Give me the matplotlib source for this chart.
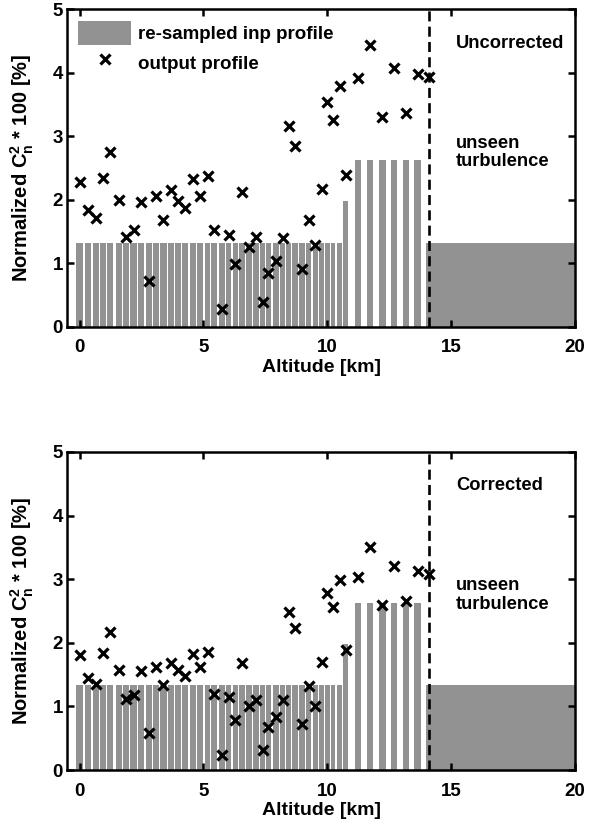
import matplotlib
matplotlib.use('Agg')
import matplotlib.pyplot as plt
import numpy as np

plt.rcParams['font.family'] = ['Liberation Sans', 'DejaVu Sans']
plt.rcParams['font.weight'] = 'bold'
plt.rcParams['axes.labelweight'] = 'bold'
plt.rcParams['mathtext.fontset'] = 'custom'
plt.rcParams['mathtext.rm'] = 'Liberation Sans:bold'
plt.rcParams['mathtext.it'] = 'Liberation Sans:bold'
plt.rcParams['mathtext.bf'] = 'Liberation Sans:bold'

# layer altitudes [km]
altitude = [0.00, 0.34, 0.65, 0.94, 1.24, 1.59, 1.88, 2.18, 2.49, 2.80,
            3.09, 3.39, 3.70, 3.99, 4.27, 4.57, 4.87, 5.17, 5.44, 5.74,
            6.02, 6.29, 6.56, 6.85, 7.12, 7.39, 7.63, 7.93, 8.20, 8.44,
            8.71, 8.98, 9.25, 9.52, 9.78, 10.01, 10.24, 10.51, 10.75,
            11.26, 11.73, 12.23, 12.70, 13.17, 13.65, 14.11]

# re-sampled input profile [%]
inp_profile = [1.33] * 38 + [1.98] + [2.63] * 6 + [1.33]

# output profiles [%]
out_uncorrected = [2.29, 1.84, 1.71, 2.34, 2.76, 2.00, 1.41, 1.52, 1.97, 0.73,
                   2.06, 1.69, 2.15, 1.99, 1.87, 2.33, 2.06, 2.37, 1.52, 0.28,
                   1.45, 0.99, 2.13, 1.26, 1.41, 0.40, 0.85, 1.04, 1.40, 3.17,
                   2.85, 0.91, 1.69, 1.29, 2.17, 3.55, 3.26, 3.80, 2.39,
                   3.92, 4.44, 3.30, 4.08, 3.37, 3.98, 3.93]
out_corrected = [1.81, 1.44, 1.35, 1.84, 2.17, 1.57, 1.11, 1.18, 1.55, 0.58,
                 1.62, 1.34, 1.69, 1.57, 1.48, 1.83, 1.62, 1.86, 1.19, 0.24,
                 1.15, 0.78, 1.68, 1.01, 1.10, 0.31, 0.68, 0.83, 1.10, 2.49,
                 2.23, 0.72, 1.32, 1.01, 1.70, 2.79, 2.56, 2.98, 1.89,
                 3.03, 3.50, 2.59, 3.21, 2.66, 3.13, 3.08]

# region above the max. altitude seen by the instrument
unseen_start = 14.11
unseen_end = 20.0
unseen_level = 1.33

panels = [('Uncorrected', out_uncorrected), ('Corrected', out_corrected)]
gray = '#929292'

# bar widths: fill the layer spacing, leaving a thin white gap
alt = np.array(altitude)
d = np.diff(alt)
spacing = np.minimum(np.r_[d[0], d], np.r_[d, d[-1]])
bar_w = np.minimum(spacing - 0.045, 0.25)

fig = plt.figure(figsize=(5.89, 8.27), dpi=100)
axes = [fig.add_axes([0.114, 0.6046, 0.862, 0.384]),
        fig.add_axes([0.114, 0.0689, 0.862, 0.3846])]

for ax, (title, out) in zip(axes, panels):
    bars = ax.bar(altitude, inp_profile, width=bar_w, color=gray, linewidth=0,
                  zorder=1)
    ax.bar(unseen_start, unseen_level, width=unseen_end - unseen_start,
           align='edge', color=gray, linewidth=0, zorder=1)
    pts, = ax.plot(altitude, out, 'x', color='black', ms=7.5, mew=2.3,
                   zorder=3)
    vl = ax.axvline(unseen_start, color='black', lw=1.9, zorder=4)
    vl.set_dashes((3.8, 2.0))

    ax.text(15.2, 4.47, title, fontsize=13.2, va='center', ha='left')
    ax.text(15.2, 2.75, 'unseen\nturbulence', fontsize=13.2, va='center',
            ha='left', linespacing=1.1)

    ax.set_xlim(-0.5, 20)
    ax.set_ylim(0, 5)
    ax.set_xticks([0, 5, 10, 15, 20])
    ax.set_yticks([0, 1, 2, 3, 4, 5])
    ax.tick_params(direction='in', top=True, right=True, length=5, width=1.8,
                   labelsize=13.5)
    ax.tick_params(axis='x', pad=9)
    ax.tick_params(axis='y', pad=3)
    for lbl in ax.get_xticklabels() + ax.get_yticklabels():
        lbl.set_fontweight('bold')
    for s in ax.spines.values():
        s.set_linewidth(1.8)
    ax.set_xlabel('Altitude [km]', fontsize=14, labelpad=2)
    ax.set_ylabel(r'Normalized C$_n^2$ * 100 [%]', fontsize=14.5, labelpad=12)

    if title == 'Uncorrected':
        ax.legend([bars, pts], ['re-sampled inp profile', 'output profile'],
                  loc='upper left', frameon=False, fontsize=13.5,
                  handlelength=2.8, handleheight=1.6, labelspacing=0.3,
                  handletextpad=0.4, borderaxespad=0.3, borderpad=0.3)

fig.savefig('out.png', dpi=100)
